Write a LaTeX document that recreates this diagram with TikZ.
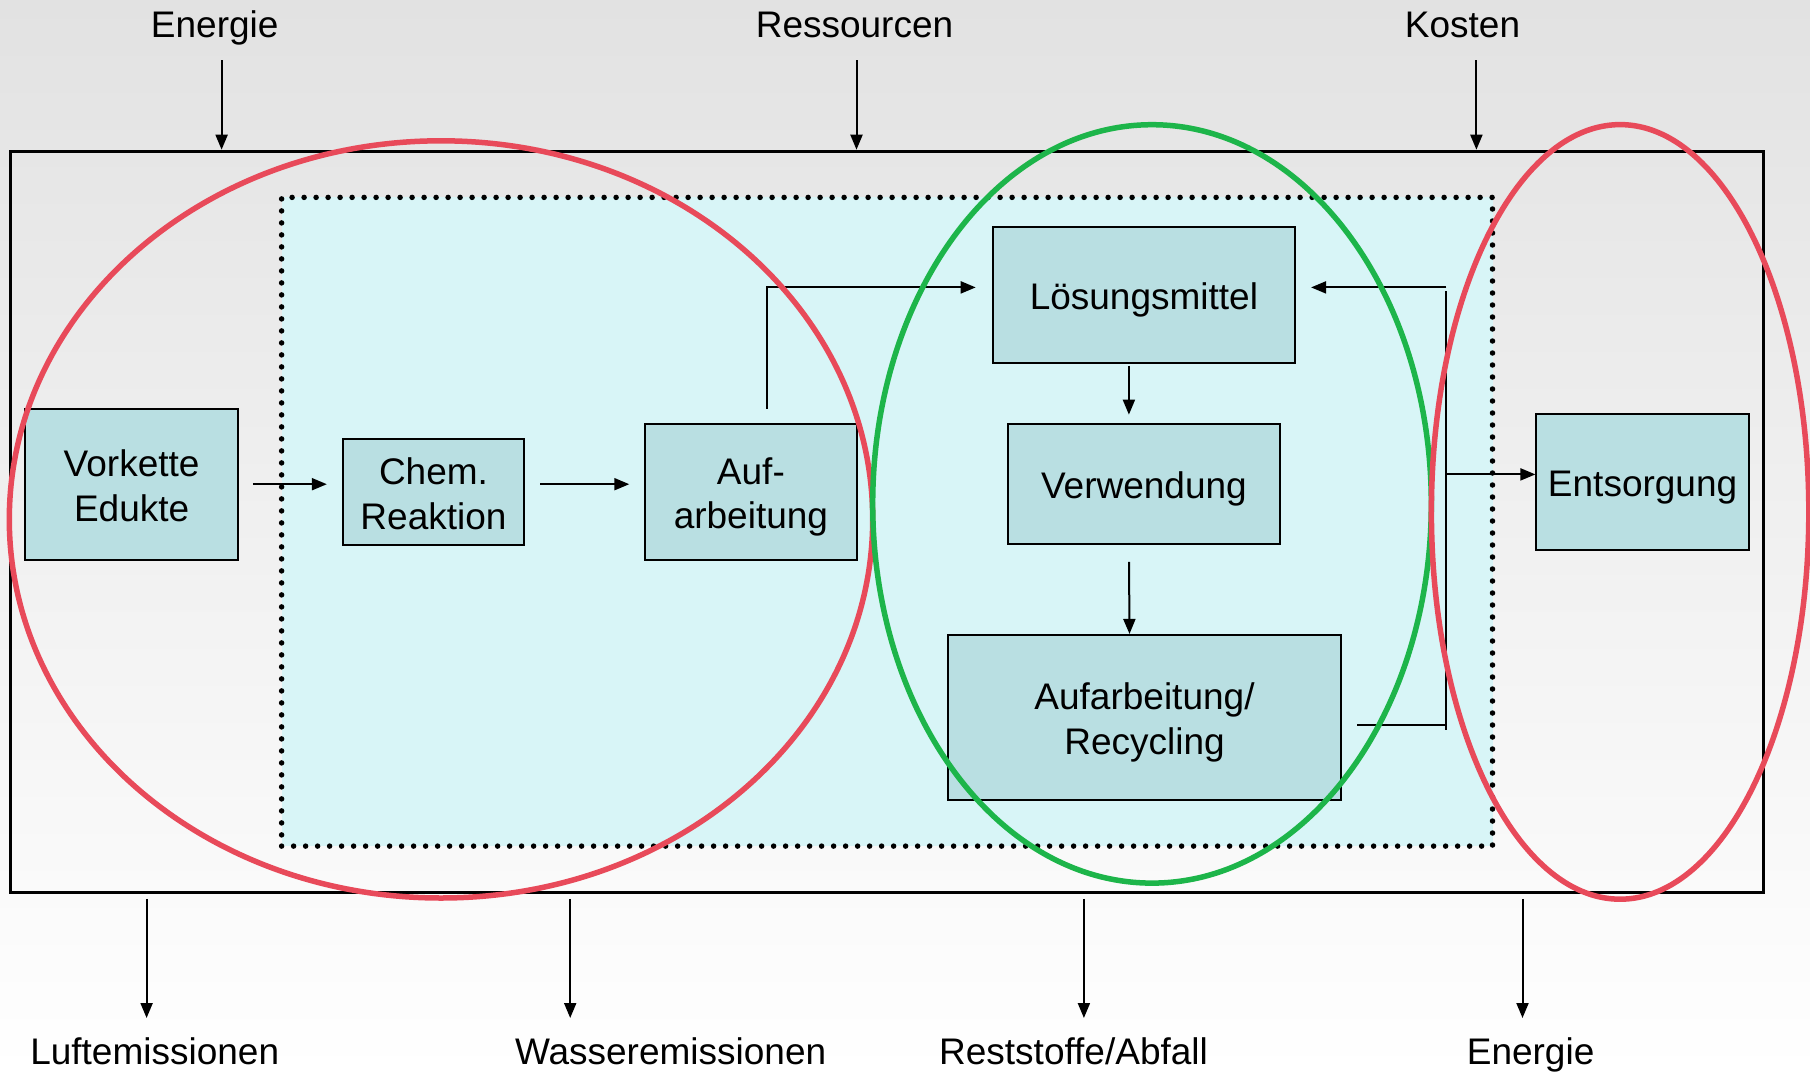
\documentclass[tikz,border=0pt]{standalone}
\usepackage{fontspec}
\setmainfont{Liberation Sans}
\usetikzlibrary{arrows.meta,calc}
\definecolor{bgtop}{RGB}{226,226,226}
\definecolor{procfill}{RGB}{216,245,247}
\definecolor{boxfill}{RGB}{185,223,226}
\definecolor{ellred}{RGB}{232,74,90}
\definecolor{ellgreen}{RGB}{29,181,74}
\begin{document}
\begin{tikzpicture}[x=1pt,y=-1pt,
  txt/.style={font=\fontsize{37pt}{44.5pt}\selectfont, inner sep=0pt},
  box/.style={draw=black, line width=2pt, fill=boxfill, inner sep=0pt},
  btxt/.style={txt, align=center, yshift=-5pt},
  arr/.style={line width=2pt, -{Triangle[length=15pt,width=12pt]}},
  ln/.style={line width=2pt},
  ell/.style={line width=5.5pt}]
% background
\shade[top color=bgtop, bottom color=white] (0,0) rectangle (1810,1074);
\useasboundingbox (0,0) rectangle (1810,1074);
% outer system boundary
\node[draw=black, line width=3pt, minimum width=1753.4pt, minimum height=741.1pt, inner sep=0pt] (outer) at (887.1,521.75) {};
% process area (dotted)
\node[fill=procfill, draw=black, line width=5.5pt, dash pattern=on 0pt off 12pt, line cap=round,
      minimum width=1210.9pt, minimum height=648.7pt, inner sep=0pt] (proc) at (887.05,521.75) {};
% boxes
\node[box, minimum width=212.4pt, minimum height=151.2pt] (vork) at (131.6,484.2) {};
\node[box, minimum width=181.3pt, minimum height=106.2pt] (chem) at (433.5,491.7) {};
\node[box, minimum width=211.2pt, minimum height=136.2pt] (auf) at (750.9,491.7) {};
\node[box, minimum width=302.4pt, minimum height=135.1pt] (lm) at (1143.9,295) {};
\node[box, minimum width=272.4pt, minimum height=120.1pt] (verw) at (1143.9,483.7) {};
\node[box, minimum width=393.6pt, minimum height=165.1pt] (rc) at (1144.5,717.5) {};
\node[box, minimum width=212.4pt, minimum height=135.1pt] (ents) at (1642.6,482) {};
\node[btxt, yshift=3.5pt] (vorkT) at (vork) {Vorkette\\Edukte};
\node[btxt, yshift=3pt] (chemT) at (chem) {Chem.\\Reaktion};
\node[btxt] (aufT) at (auf) {Auf-\\arbeitung};
\node[btxt] (lmT) at (lm) {Lösungsmittel};
\node[btxt] (verwT) at (verw) {Verwendung};
\node[btxt] (rcT) at (rc) {Aufarbeitung/\\Recycling};
\node[btxt, yshift=-1pt] (entsT) at (ents) {Entsorgung};
% labels
\node[txt, anchor=base] (lEn) at (214.7,37) {Energie};
\node[txt, anchor=base] (lRe) at (854.5,37) {Ressourcen};
\node[txt, anchor=base] (lKo) at (1462.5,37) {Kosten};
\node[txt, anchor=base] (lLu) at (154.7,1064) {Luftemissionen};
\node[txt, anchor=base] (lWa) at (670.6,1064) {Wasseremissionen};
\node[txt, anchor=base] (lRs) at (1073.5,1064) {Reststoffe/Abfall};
\node[txt, anchor=base] (lE2) at (1530.6,1064) {Energie};
% coordinates
\coordinate (t1) at (221.6,60);
\coordinate (t2) at (856.5,60);
\coordinate (t3) at (1476.4,60);
\coordinate (b1) at (146.6,1018);
\coordinate (b2) at (570.2,1018);
\coordinate (b3) at (1083.9,1018);
\coordinate (b4) at (1522.5,1018);
\coordinate (a1) at (766.5,408.6);
\coordinate (jt) at (1446.4,287.4);
\coordinate (jv) at (1446.4,291);
\coordinate (jb) at (1446.4,729.5);
\coordinate (jr) at (1446.4,725);
\coordinate (je) at (1446.4,474.4);
% inputs / outputs
\draw[arr] (t1) -- (t1 |- outer.north);
\draw[arr] (t2) -- (t2 |- outer.north);
\draw[arr] (t3) -- (t3 |- outer.north);
\draw[arr, shorten <=5pt] (b1 |- outer.south) -- (b1);
\draw[arr, shorten <=5pt] (b2 |- outer.south) -- (b2);
\draw[arr, shorten <=5pt] (b3 |- outer.south) -- (b3);
\draw[arr, shorten <=5pt] (b4 |- outer.south) -- (b4);
% process flow
\draw[arr, shorten <=14pt, shorten >=15pt] (vork.east) -- (chem.west |- vork.east);
\draw[arr, shorten <=15pt, shorten >=15pt] (chem.east |- vork.east) -- (auf.west |- vork.east);
\draw[arr, shorten >=16pt] (a1) |- (lm.west |- jt);
\draw[arr, shorten <=2pt, shorten >=8pt] ([xshift=-15pt]lm.south) -- ([xshift=-15pt]verw.north);
\draw[arr, shorten <=17pt] ([xshift=-15pt]verw.south) -- ([xshift=-15pt]rc.north);
\draw[ln, shorten <=15pt] (rc.east |- jr) -- (jr);
\draw[ln] (jv) -- (jb);
\draw[arr, shorten >=15pt] (jt) -- (lm.east |- jt);
\draw[arr] (je) -- (ents.west |- je);
% ellipses
\draw[ell, draw=ellred] (441,519.4) ellipse [x radius=431.7pt, y radius=378.6pt];
\draw[ell, draw=ellgreen] (1152,503.9) ellipse [x radius=279.3pt, y radius=379.2pt];
\draw[ell, draw=ellred] (1620.1,511.9) ellipse [x radius=188.7pt, y radius=387.3pt];
\end{tikzpicture}
\end{document}
